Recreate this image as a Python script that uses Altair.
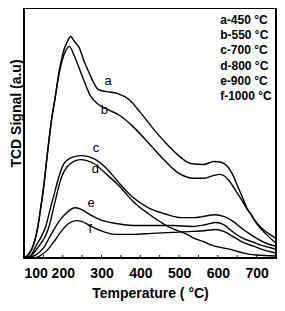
import altair as alt
import pandas as pd

# ---- data (temperature in °C, TCD signal in a.u.) ----
a_T = [100, 110, 120, 128, 135, 142, 150, 163, 172, 180, 190, 198, 205, 212, 220, 230, 242, 255, 267, 280, 292, 313, 342, 371, 400, 430, 463, 496, 530, 563, 590, 610, 625, 638, 650, 663, 675, 684, 700, 717, 734, 750]
a_v = [0, 3, 9, 18, 30, 48, 70, 115, 143, 162, 188, 204, 214, 220, 225, 220, 214, 200, 189, 178, 171, 169, 167, 161, 148, 133, 118, 105, 96, 95, 98, 97, 93, 85, 74, 62, 51, 45, 36, 29, 24, 20]

b_T = [100, 110, 120, 128, 135, 142, 150, 163, 172, 180, 190, 198, 208, 217, 230, 250, 271, 292, 321, 346, 380, 430, 463, 496, 538, 565, 590, 605, 618, 630, 650, 663, 675, 684, 700, 725, 750]
b_v = [0, 3, 9, 18, 30, 48, 70, 115, 143, 162, 186, 200, 211, 215, 205, 185, 165, 156, 150, 145, 134, 113, 99, 87, 81, 81, 84, 85, 83, 78, 66, 58, 50, 45, 35, 24, 15]

c_T = [100, 110, 120, 132, 145, 155, 171, 180, 188, 205, 230, 250, 280, 313, 337, 380, 421, 463, 505, 540, 560, 592, 617, 640, 659, 680, 700, 725, 750]
c_v = [0, 1, 4, 13, 22, 31, 55, 68, 80, 97, 103, 104, 101, 91, 80, 62, 51, 45, 41, 41, 42, 44, 42, 37, 31, 25, 20, 15, 12]

d_T = [100, 110, 120, 140, 152, 163, 180, 195, 212, 245, 280, 313, 346, 380, 421, 463, 488, 521, 534, 567, 584, 630, 667, 700, 750]
d_v = [0, 1, 3, 13, 20, 30, 57, 80, 93, 100, 96, 85, 73, 58, 45, 34, 29, 24, 21, 16, 13, 9, 5, 3, 2]

e_T = [100, 115, 130, 150, 170, 190, 210, 232, 250, 270, 296, 338, 380, 430, 484, 534, 570, 595, 615, 634, 660, 692, 720, 750]
e_v = [0, 1, 3, 10, 24, 37, 46, 51, 49, 44, 39, 35, 33, 33, 33, 32, 34, 36, 34, 28, 21, 16, 12, 9]

f_T = [100, 120, 140, 160, 180, 196, 215, 235, 250, 270, 296, 338, 380, 430, 484, 534, 570, 595, 615, 634, 660, 692, 720, 750]
f_v = [0, 0, 2, 8, 18, 27, 35, 38, 37, 33, 28, 24, 24, 25, 26, 27, 28, 29, 27, 23, 17, 12, 8, 5]

series_names = ["a", "b", "c", "d", "e", "f"]
legend_labels = ["a-450 °C", "b-550 °C", "c-700 °C", "d-800 °C", "e-900 °C", "f-1000 °C"]
curve_label_T = [317, 307, 286, 284, 273, 271]
curve_label_v = [180, 150, 112, 90, 56, 29]
x_tick_labels = [100, 200, 300, 400, 500, 600, 700]
minor_ticks = [100, 150, 200, 250, 300, 350, 400, 450, 500, 550, 600, 650, 700, 750]

all_T = [a_T, b_T, c_T, d_T, e_T, f_T]
all_v = [a_v, b_v, c_v, d_v, e_v, f_v]

rows = []
for name, Ts, vs in zip(series_names, all_T, all_v):
    for t, v in zip(Ts, vs):
        rows.append({"series": name, "T": t, "v": v})
df = pd.DataFrame(rows)

lab_df = pd.DataFrame({"label": series_names, "T": curve_label_T, "v": curve_label_v})
leg_df = pd.DataFrame({"label": legend_labels})
leg_df["T"] = 606
leg_df["v"] = [242 - 15.5 * i for i in range(len(legend_labels))]
tick_df = pd.DataFrame({"T": minor_ticks})

W, H = 252, 250
FONT = "Liberation Sans"

x_scale = alt.Scale(domain=[100, 750], nice=False, zero=False)
y_scale = alt.Scale(domain=[0, 254], nice=False, zero=False)

lines = alt.Chart(df).mark_line(color="black", strokeWidth=1.4, interpolate="monotone").encode(
    x=alt.X("T:Q", scale=x_scale,
            axis=alt.Axis(title="Temperature ( °C)", values=x_tick_labels, ticks=False, domain=False,
                          grid=False, labelFont=FONT, labelFontSize=14, labelFontWeight="bold",
                          labelColor="black", labelPadding=8, titleFont=FONT, titleFontSize=14,
                          titleFontWeight="bold", titleColor="black", titlePadding=6)),
    y=alt.Y("v:Q", scale=y_scale,
            axis=alt.Axis(title="TCD Signal (a.u)", labels=False, ticks=False, domain=False, grid=False,
                          titleFont=FONT, titleFontSize=14, titleFontWeight="bold", titleColor="black",
                          titleX=-1, titleY=105, titleBaseline="bottom")),
    detail="series:N",
)

ticks = alt.Chart(tick_df).mark_rule(color="black", strokeWidth=1).encode(
    x=alt.X("T:Q", scale=x_scale),
    y=alt.value(H),
    y2=alt.value(H - 3),
)

curve_labels = alt.Chart(lab_df).mark_text(font=FONT, fontSize=13, color="black",
                                           align="center", baseline="middle").encode(
    x=alt.X("T:Q", scale=x_scale), y=alt.Y("v:Q", scale=y_scale), text="label:N")

legend_text = alt.Chart(leg_df).mark_text(font=FONT, fontSize=12, fontWeight="bold", color="black",
                                          align="left", baseline="middle").encode(
    x=alt.X("T:Q", scale=x_scale), y=alt.Y("v:Q", scale=y_scale), text="label:N")

chart = alt.layer(lines, ticks, curve_labels, legend_text).properties(
    width=W, height=H,
    background="white",
    autosize=alt.AutoSizeParams(type="none"),
    padding={"left": 16, "top": 0, "right": 1, "bottom": 45},
).configure_view(stroke="black", strokeWidth=2)

chart.save("out.html", embed_options={"renderer": "svg", "actions": False})
